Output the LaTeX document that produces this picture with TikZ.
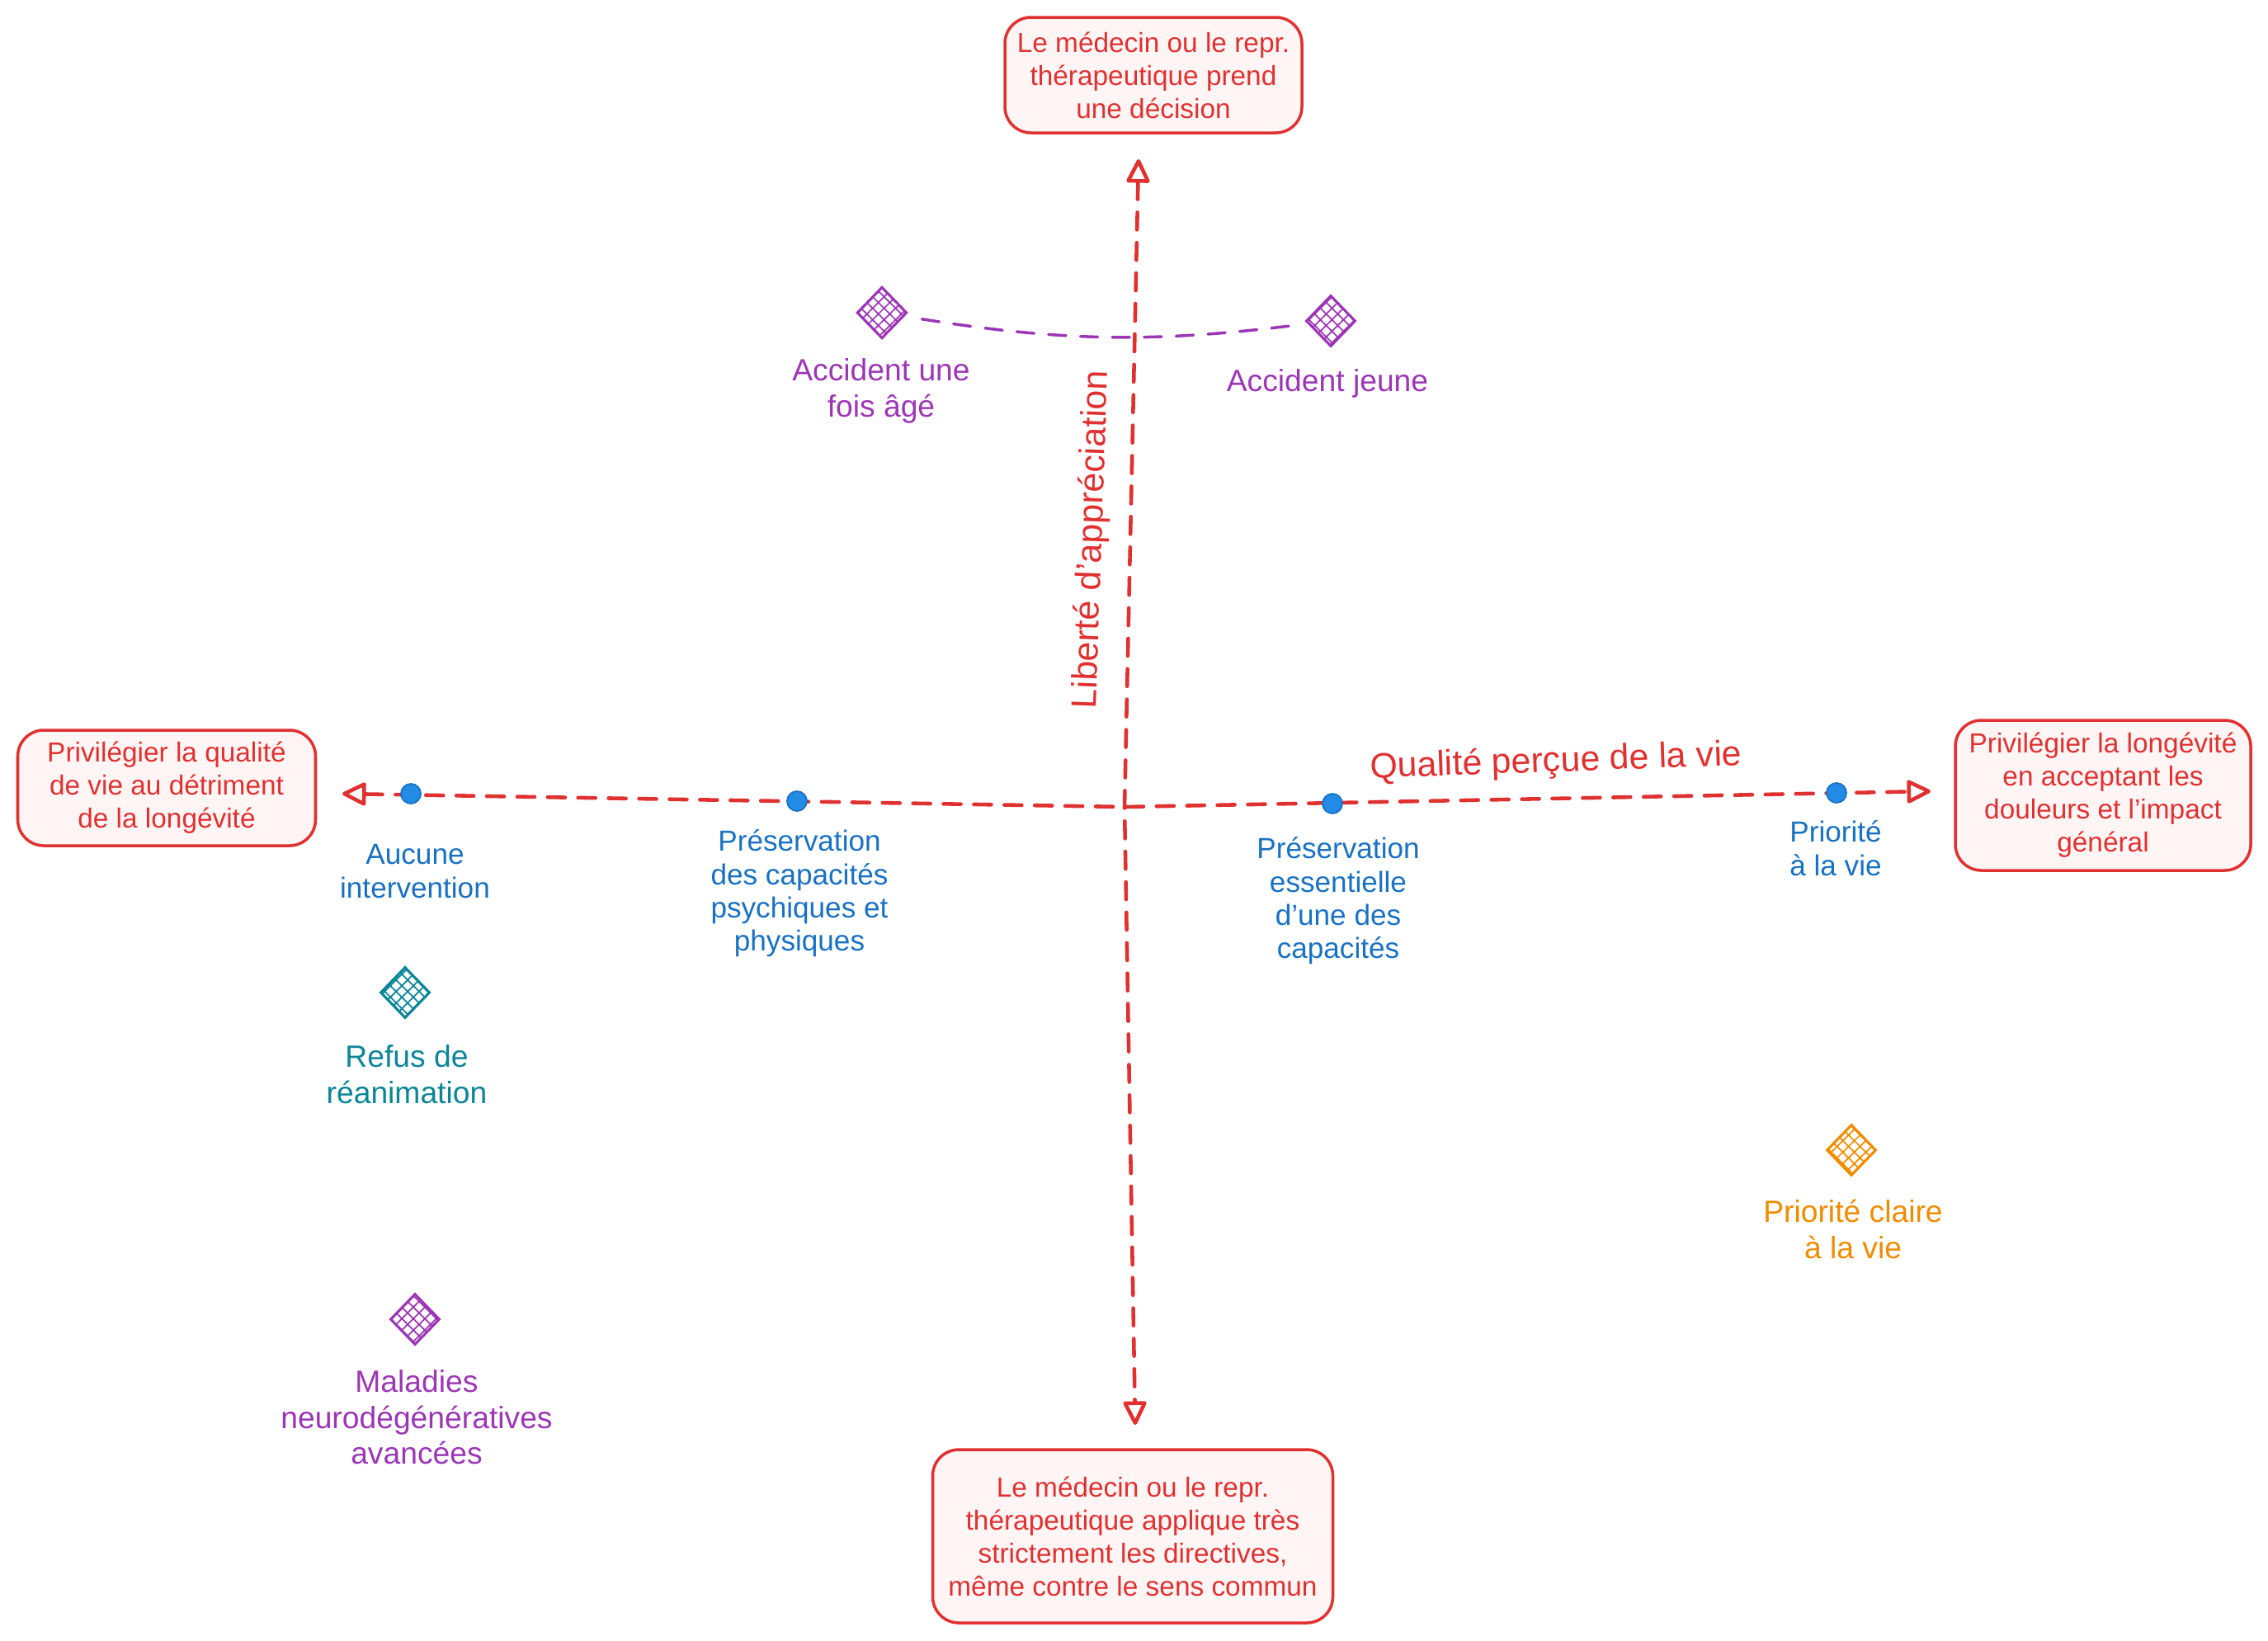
\documentclass[tikz,border=0pt]{standalone}
\usepackage{fontspec}
\setmainfont{Liberation Sans}
\usepackage{tikz}
\usetikzlibrary{arrows.meta, shapes.geometric, patterns.meta}
\definecolor{rouge}{HTML}{E03131}
\definecolor{rose}{HTML}{FFF5F5}
\definecolor{bleu}{HTML}{1971C2}
\definecolor{bleuclair}{HTML}{228BE6}
\definecolor{cviolet}{HTML}{9C36B5}
\definecolor{csarcelle}{HTML}{0C8599}
\definecolor{corange}{HTML}{F08C00}
\tikzset{
  pole/.style={draw=rouge, fill=rose, line width=1pt, rounded corners=9pt,
    text=rouge, align=center, font=\fontsize{9.5}{11.4}\selectfont},
  axe/.style={draw=rouge, line width=1.3pt, dash pattern=on 6pt off 4.5pt, line cap=round},
  axetxt/.style={text=rouge, font=\fontsize{12.2}{14}\selectfont},
  jalon/.style={circle, fill=bleuclair, draw=bleu, line width=0.5pt, inner sep=0pt, minimum size=0.24cm},
  jalontxt/.style={text=bleu, align=center, font=\fontsize{10}{11.5}\selectfont},
  cas/.style={diamond, draw=#1, line width=0.9pt, inner sep=0pt,
    pattern={Hatch[angle=45, distance=2.8pt, line width=0.5pt]}, pattern color=#1,
    minimum width=0.6cm, minimum height=0.62cm},
  castxt/.style={text=#1, align=center, font=\fontsize{10.6}{12.4}\selectfont},
  lien/.style={draw=#1, line width=1pt, dash pattern=on 6pt off 5pt, line cap=round}
}

\begin{document}
\begin{tikzpicture}[>={Triangle[open, round, length=9pt, width=8.5pt]}]
\useasboundingbox (0,0) rectangle (27.49,-19.88);

% les quatre poles
\node[pole, minimum width=3.6cm, minimum height=1.4cm] (haut) at (13.98,-0.91) {Le médecin ou le repr.\\thérapeutique prend\\une décision};
\node[pole, minimum width=4.85cm, minimum height=2.1cm] (bas) at (13.73,-18.62) {Le médecin ou le repr.\\thérapeutique applique très\\strictement les directives,\\même contre le sens commun};
\node[pole, minimum width=3.61cm, minimum height=1.4cm] (gauche) at (2.02,-9.55) {Privilégier la qualité\\de vie au détriment\\de la longévité};
\node[pole, minimum width=3.58cm, minimum height=1.82cm] (droite) at (25.49,-9.64) {Privilégier la longévité\\en acceptant les\\douleurs et l'impact\\général};

\coordinate (centre) at (13.63,-9.78);
\coordinate (pointeN) at (13.80,-1.93);
\coordinate (pointeS) at (13.76,-17.27);
\coordinate (pointeO) at (4.15,-9.62);
\coordinate (pointeE) at (23.40,-9.59);

% axes
\draw[axe, <->] (pointeO) -- (centre) -- (pointeE);
\draw[axe, <->] (pointeN) -- (centre) -- (pointeS);

\node[axetxt, rotate=2] (qualite) at (18.86,-9.24) {Qualité perçue de la vie};
\node[axetxt, rotate=88] (liberte) at (13.24,-6.54) {Liberté d'appréciation};

% jalons sur l'axe horizontal
\node[jalon] (j1) at (4.98,-9.62) {};
\node[jalon] (j2) at (9.66,-9.71) {};
\node[jalon] (j3) at (16.15,-9.74) {};
\node[jalon] (j4) at (22.26,-9.61) {};
\node[jalontxt] (t1) at (5.03,-10.56) {Aucune\\intervention};
\node[jalontxt] (t2) at (9.69,-10.83) {Préservation\\des capacités\\psychiques et\\physiques};
\node[jalontxt] (t3) at (16.22,-10.92) {Préservation\\essentielle\\d'une des\\capacités};
\node[jalontxt] (t4) at (22.25,-10.28) {Priorité\\à la vie};

% cas
\node[cas=cviolet] (accage) at (10.69,-3.79) {};
\node[cas=cviolet] (accjeune) at (16.13,-3.89) {};
\node[cas=csarcelle] (refus) at (4.91,-12.03) {};
\node[cas=cviolet] (maladies) at (5.03,-15.99) {};
\node[cas=corange] (claire) at (22.44,-13.94) {};
\node[castxt=cviolet] (taccage) at (10.68,-4.74) {Accident une\\fois âgé};
\node[castxt=cviolet] (taccjeune) at (16.09,-4.65) {Accident jeune};
\node[castxt=csarcelle] (trefus) at (4.93,-13.02) {Refus de\\réanimation};
\node[castxt=cviolet] (tmaladies) at (5.05,-17.18) {Maladies\\neurodégénératives\\avancées};
\node[castxt=corange] (tclaire) at (22.46,-14.90) {Priorité claire\\à la vie};

\draw[lien=cviolet, shorten <=0.22cm, shorten >=0.22cm] (accage) to[bend right=8] (accjeune);
\end{tikzpicture}
\end{document}
